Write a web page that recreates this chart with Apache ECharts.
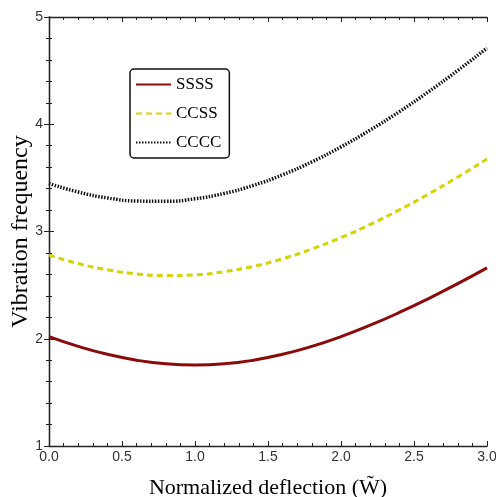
<!DOCTYPE html>
<html><head><meta charset="utf-8">
<script src="https://cdn.jsdelivr.net/npm/echarts@6/dist/echarts.min.js"></script>
<style>html,body{margin:0;padding:0;background:#fff}#c{width:496px;height:497px}</style>
</head><body><div id="c"></div>
<script>
const deflection = [0,0.2,0.4,0.6,0.8,1.0,1.2,1.4,1.6,1.8,2.0,2.2,2.4,2.6,2.8,3.0];
const ssss = [2.020,1.929,1.855,1.800,1.766,1.755,1.766,1.800,1.855,1.929,2.020,2.126,2.245,2.375,2.514,2.661];
const ccss = [2.780,2.701,2.643,2.605,2.589,2.596,2.625,2.675,2.746,2.837,2.944,3.066,3.202,3.350,3.508,3.676];
const cccc = [3.448,3.368,3.313,3.284,3.281,3.305,3.355,3.430,3.529,3.649,3.789,3.946,4.118,4.304,4.502,4.710];
const seriesNames = ['SSSS','CCSS','CCCC'];
const xTitle = 'Normalized deflection (W\u0303)';
const yTitle = 'Vibration frequency';

const pair = ys => deflection.map((x,i)=>[x, ys[i]]);
const chart = echarts.init(document.getElementById('c'));
const axisLine = {show:true, lineStyle:{color:'#222', width:1.3}};
const tickCommon = {inside:true, length:5, lineStyle:{color:'#222', width:1}};
const minor = {show:true, splitNumber:5, length:3, lineStyle:{color:'#222', width:1}};
const lbl = {fontFamily:'Liberation Sans', fontSize:14, color:'#333'};
chart.setOption({
  animation:false,
  grid:{left:49, right:9, top:17, bottom:51, containLabel:false, outerBoundsMode:'none'},
  legend:{
    orient:'vertical', left:130, top:69, width:99,
    padding:[7,8,7,5], itemGap:12, itemWidth:35, itemHeight:14,
    borderColor:'#111', borderWidth:1.5, borderRadius:4, backgroundColor:'#fff',
    itemStyle:{opacity:0},
    textStyle:{fontFamily:'Liberation Serif', fontSize:17, color:'#000'},
    data:seriesNames
  },
  xAxis:[
    {type:'value', min:0, max:3, interval:0.5, position:'bottom',
     name:xTitle, nameLocation:'middle', nameGap:31, nameMoveOverlap:false,
     nameTextStyle:{fontFamily:'Liberation Serif', fontSize:22, color:'#000'},
     axisLine, axisTick:tickCommon, minorTick:minor, splitLine:{show:false},
     axisLabel:Object.assign({margin:4, formatter:v=>v.toFixed(1)}, lbl)},
    {type:'value', min:0, max:3, interval:0.5, position:'top',
     axisLine, axisTick:tickCommon, minorTick:minor, splitLine:{show:false},
     axisLabel:{show:false}}
  ],
  yAxis:[
    {type:'value', min:1, max:5, interval:1, position:'left',
     name:yTitle, nameLocation:'middle', nameGap:16, nameMoveOverlap:false,
     nameTextStyle:{fontFamily:'Liberation Serif', fontSize:24, color:'#000'},
     axisLine, axisTick:tickCommon, minorTick:minor, splitLine:{show:false},
     axisLabel:Object.assign({margin:6}, lbl)},
    {type:'value', min:1, max:5, interval:1, position:'right',
     axisLine, axisTick:tickCommon, minorTick:minor, splitLine:{show:false},
     axisLabel:{show:false}}
  ],
  series:[
    {name:seriesNames[0], type:'line', smooth:true, symbol:'none', data:pair(ssss),
     itemStyle:{color:'#8b0a0a'}, lineStyle:{color:'#8b0a0a', width:3}},
    {name:seriesNames[1], type:'line', smooth:true, symbol:'none', data:pair(ccss),
     itemStyle:{color:'#d4d400'}, lineStyle:{color:'#d4d400', width:3, type:[6,4]}},
    {name:seriesNames[2], type:'line', smooth:true, symbol:'none', data:pair(cccc),
     itemStyle:{color:'#111'}, lineStyle:{color:'#111', width:3.5, type:[1.5,1.5]}}
  ]
});
</script></body></html>
